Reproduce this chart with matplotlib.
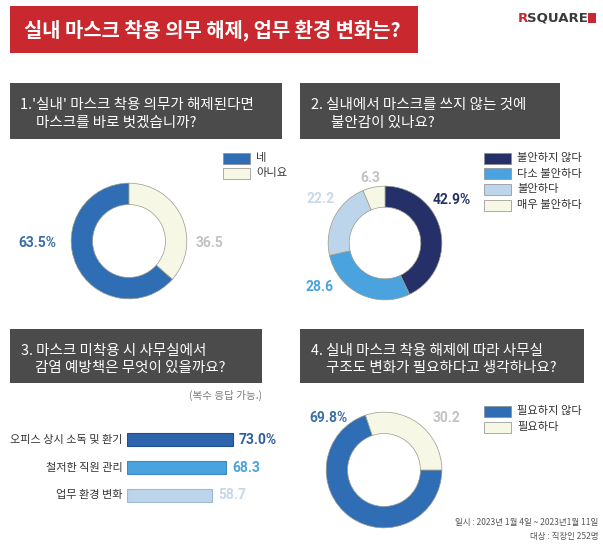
import matplotlib
matplotlib.use("Agg")
import matplotlib.pyplot as plt
from matplotlib.patches import Rectangle

plt.rcParams['font.family'] = ['Noto Sans CJK KR', 'DejaVu Sans']

# ---------------- data ----------------
title = "실내 마스크 착용 의무 해제, 업무 환경 변화는?"

q1_lines = ["1.'실내' 마스크 착용 의무가 해제된다면", "마스크를 바로 벗겠습니까?"]
q1_labels = ["네", "아니요"]
q1_values = [63.5, 36.5]
q1_colors = ["#2f6db5", "#f7f7e6"]

q2_lines = ["2. 실내에서 마스크를 쓰지 않는 것에", "불안감이 있나요?"]
q2_labels = ["불안하지 않다", "다소 불안하다", "불안하다", "매우 불안하다"]
q2_values = [42.9, 28.6, 22.2, 6.3]
q2_colors = ["#243067", "#4aa3df", "#bcd5ea", "#f7f7e6"]

q3_lines = ["3. 마스크 미착용 시 사무실에서", "감염 예방책은 무엇이 있을까요?"]
q3_note = "(복수 응답 가능.)"
q3_labels = ["오피스 상시 소독 및 환기", "철저한 직원 관리", "업무 환경 변화"]
q3_values = [73.0, 68.3, 58.7]
q3_colors = ["#2d65ad", "#4aa3df", "#bcd5ea"]

q4_lines = ["4. 실내 마스크 착용 해제에 따라 사무실", "구조도 변화가 필요하다고 생각하나요?"]
q4_labels = ["필요하지 않다", "필요하다"]
q4_values = [69.8, 30.2]
q4_colors = ["#2f6db5", "#f7f7e6"]

footnote = ["일시 : 2023년 1월 4일 ~ 2023년1월 11일", "대상 : 직장인 252명"]

# ---------------- figure ----------------
W, H = 603, 546
fig = plt.figure(figsize=(W / 100, H / 100), dpi=100)
fig.patch.set_facecolor("white")

bg = fig.add_axes([0, 0, 1, 1])
bg.set_xlim(0, W)
bg.set_ylim(H, 0)
bg.axis("off")


def px_axes(x0, y0, w, h):
    return fig.add_axes([x0 / W, 1 - (y0 + h) / H, w / W, h / H])


# title bar
bg.add_patch(Rectangle((10, 6), 408, 47, facecolor="#c9282e", edgecolor="none"))
bg.text(212, 30, title, color="white", fontsize=14.3, fontweight="bold",
        ha="center", va="center")

# logo
bg.text(518, 18, "R", color="#c9282e", fontsize=9.5, fontweight="bold", ha="left", va="center",
        family=["DejaVu Sans"])
bg.text(527, 18, "SQUARE", color="#3a3a3a", fontsize=9.5, fontweight="bold", ha="left", va="center",
        family=["DejaVu Sans"])
bg.add_patch(Rectangle((588, 13), 8, 10, facecolor="#c9282e", edgecolor="none"))


def header(x0, y0, w, h, lines, tx, indent):
    bg.add_patch(Rectangle((x0, y0), w, h, facecolor="#4b4b4b", edgecolor="none"))
    bg.text(tx, y0 + h * 0.40, lines[0], color="white", fontsize=10.45,
            ha="left", va="center")
    bg.text(tx + indent, y0 + h * 0.72, lines[1], color="white", fontsize=10.45,
            ha="left", va="center")


header(10, 83, 272, 56, q1_lines, 20, 16)
header(300, 83, 260, 56, q2_lines, 311, 20)
header(10, 329, 252, 54, q3_lines, 21, 14)
header(300, 329, 284, 54, q4_lines, 311, 15)


def donut(cx, cy, r, values, colors, startangle, counterclock):
    ax = px_axes(cx - r, cy - r, 2 * r, 2 * r)
    ax.pie(values, colors=colors, startangle=startangle, counterclock=counterclock,
           radius=1.0, wedgeprops=dict(width=0.37, edgecolor="#9a9a8a", linewidth=0.5))
    ax.set_xlim(-1.02, 1.02)
    ax.set_ylim(-1.02, 1.02)
    ax.set_aspect("equal")
    ax.axis("off")
    return ax


def legend(x0, y0, step, labels, colors):
    for i, (lab, col) in enumerate(zip(labels, colors)):
        y = y0 + i * step
        bg.add_patch(Rectangle((x0, y - 5.5), 27, 11, facecolor=col,
                               edgecolor="#8a8a8a", linewidth=0.5))
        bg.text(x0 + 33, y, lab, fontsize=8.1, color="#333333", ha="left", va="center")


# Q1
donut(129, 241, 59, q1_values, q1_colors, 90, True)
bg.text(37, 243, f"{q1_values[0]:.1f}%", color="#3b6ea8", fontsize=10, fontweight="bold",
        ha="center", va="center", family=["Roboto"])
bg.text(210, 243, f"{q1_values[1]:.1f}", color="#c2c2c2", fontsize=10, fontweight="bold",
        ha="center", va="center", family=["Roboto"])
legend(223, 158, 15, q1_labels, q1_colors)

# Q2
donut(385, 243, 58, q2_values, q2_colors, 90, False)
bg.text(452, 200, f"{q2_values[0]:.1f}%", color="#243067", fontsize=10, fontweight="bold",
        ha="center", va="center", family=["Roboto"])
bg.text(320, 287, f"{q2_values[1]:.1f}", color="#4aa3df", fontsize=10, fontweight="bold",
        ha="center", va="center", family=["Roboto"])
bg.text(321, 199, f"{q2_values[2]:.1f}", color="#c9d9e8", fontsize=10, fontweight="bold",
        ha="center", va="center", family=["Roboto"])
bg.text(370, 178, f"{q2_values[3]:.1f}", color="#c2c2c2", fontsize=10, fontweight="bold",
        ha="center", va="center", family=["Roboto"])
legend(484, 158, 15.7, q2_labels, q2_colors)

# Q3 bars
bg.text(262, 395, q3_note, color="#7a7a7a", fontsize=7.6, ha="right", va="center")
axb = px_axes(127, 426, 145.2, 83)
ypos = list(range(len(q3_values)))
edge_cols = ["#1f4f8f", "#3a88bf", "#9db8d0"]
axb.barh(ypos, q3_values, height=0.47, color=q3_colors, edgecolor=edge_cols, linewidth=0.8)
axb.set_xlim(0, 100)
axb.set_ylim(2.5, -0.5)
axb.axis("off")
val_cols = ["#2d5f9e", "#4aa3df", "#c4d8ea"]
for i, v in enumerate(q3_values):
    txt = f"{v:.1f}%" if i == 0 else f"{v:.1f}"
    axb.text(v + 4, i, txt, color=val_cols[i], fontsize=10, fontweight="bold",
             ha="left", va="center", family=["Roboto"])
    axb.text(-3, i, q3_labels[i], color="#333333", fontsize=8.0, ha="right", va="center")

# Q4
donut(384, 470, 59, q4_values, q4_colors, 0, False)
bg.text(328, 418, f"{q4_values[0]:.1f}%", color="#3b6ea8", fontsize=10, fontweight="bold",
        ha="center", va="center", family=["Roboto"])
bg.text(447, 418, f"{q4_values[1]:.1f}", color="#c2c2c2", fontsize=10, fontweight="bold",
        ha="center", va="center", family=["Roboto"])
legend(484, 411, 16, q4_labels, q4_colors)

bg.text(598, 523, footnote[0], color="#555555", fontsize=6.1, ha="right", va="center")
bg.text(598, 537, footnote[1], color="#555555", fontsize=6.1, ha="right", va="center")

fig.savefig("out.png", dpi=100, facecolor="white")
